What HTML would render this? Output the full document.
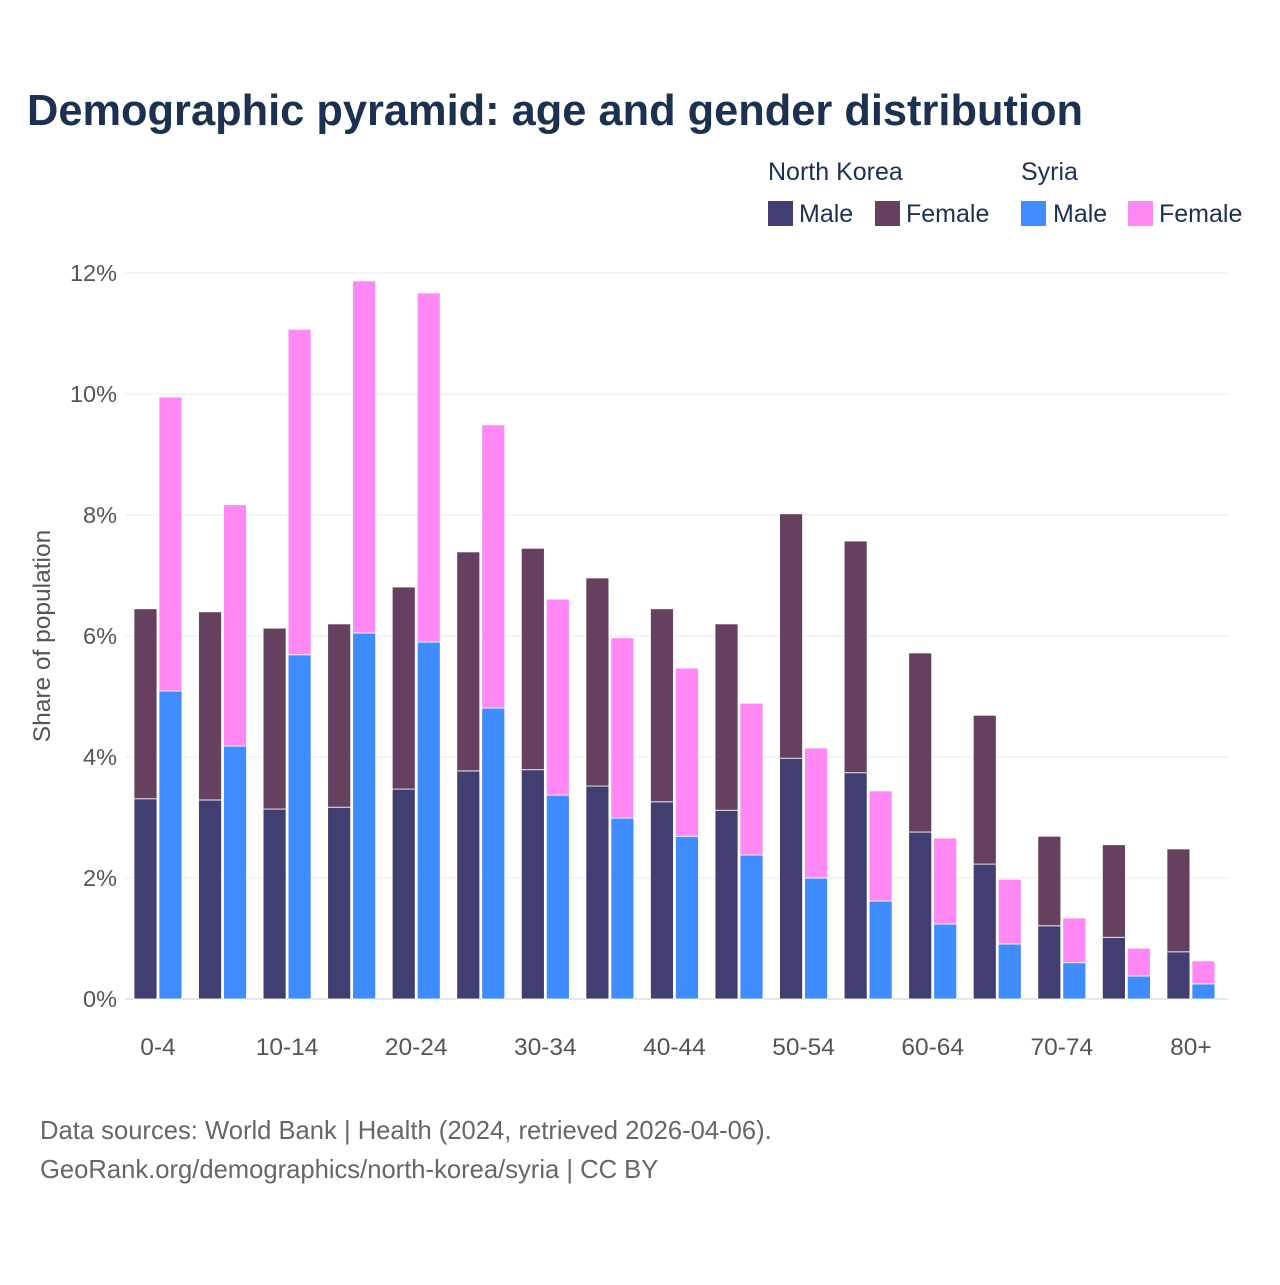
<!DOCTYPE html>
<html><head><meta charset="utf-8"><style>
body{margin:0;width:1280px;height:1280px;background:#fff;font-family:"Liberation Sans",sans-serif;overflow:hidden}
</style></head><body>
<svg id="c" width="1280" height="1280" xmlns="http://www.w3.org/2000/svg">
<text x="27" y="125" font-size="43.4" font-weight="bold" fill="#1c3150">Demographic pyramid: age and gender distribution</text>
<g font-size="25" fill="#1c3150">
<text x="768" y="180">North Korea</text>
<text x="1021" y="180">Syria</text>
<g><rect x="768" y="201" width="25" height="25" fill="#413e72"/><text x="799" y="222">Male</text></g>
<g><rect x="875" y="201" width="25" height="25" fill="#66405f"/><text x="906" y="222">Female</text></g>
<g><rect x="1021" y="201" width="25" height="25" fill="#3f8cff"/><text x="1053" y="222">Male</text></g>
<g><rect x="1128" y="201" width="25" height="25" fill="#ff88f5"/><text x="1159" y="222">Female</text></g>
</g>
<text transform="translate(50,636) rotate(-90)" text-anchor="middle" font-size="24.5" fill="#555">Share of population</text>
<g id="grid"></g><g id="bars"></g><g id="xt"></g>
<text x="40" y="1139" font-size="25.6" fill="#666">Data sources: World Bank | Health (2024, retrieved 2026-04-06).</text>
<text x="40" y="1178" font-size="25.6" fill="#666">GeoRank.org/demographics/north-korea/syria | CC BY</text>
</svg>
<script>
const categories=["0-4","5-9","10-14","15-19","20-24","25-29","30-34","35-39","40-44","45-49","50-54","55-59","60-64","65-69","70-74","75-79","80+"];
const nkMale=[3.31,3.29,3.14,3.17,3.47,3.77,3.79,3.52,3.26,3.12,3.98,3.74,2.76,2.23,1.21,1.02,0.78];
const nkFemale=[3.14,3.11,2.99,3.03,3.34,3.62,3.66,3.44,3.19,3.08,4.04,3.83,2.96,2.46,1.48,1.53,1.70];
const syMale=[5.09,4.18,5.69,6.05,5.90,4.81,3.37,2.99,2.69,2.38,2.00,1.62,1.24,0.91,0.60,0.38,0.25];
const syFemale=[4.86,3.99,5.38,5.82,5.77,4.68,3.24,2.98,2.78,2.51,2.15,1.82,1.42,1.07,0.74,0.46,0.38];
const yTicks=[0,2,4,6,8,10,12];
const NS="http://www.w3.org/2000/svg";
const y=v=>999-v*60.5;
const x0=125.7,band=64.56;
function mk(t,a,p){const e=document.createElementNS(NS,t);for(const k in a)e.setAttribute(k,a[k]);p.appendChild(e);return e;}
const grid=document.getElementById('grid'),bars=document.getElementById('bars'),xt=document.getElementById('xt');
yTicks.forEach(v=>{
 const l=mk('line',{x1:125,x2:1228,y1:y(v),y2:y(v),stroke:v===0?'#ccc':'#e8e8e8','stroke-width':1},grid);
 
 
 const t=mk('text',{x:117,y:y(v)+8,'text-anchor':'end','font-size':23.5,fill:'#555'},grid);
 t.textContent=v+'%';
 
 
});
function bar(xl,base,val,col,name){
 const r=mk('rect',{x:xl,y:y(base+val),width:23,height:val*60.5,fill:col,stroke:'#fff','stroke-width':0.8},bars);
 
 
}
categories.forEach((c,i)=>{
 const cx=x0+band*i+band/2;
 bar(cx-24,0,nkMale[i],'#413e72','bar-nk-male-'+c);
 bar(cx-24,nkMale[i],nkFemale[i],'#66405f','bar-nk-female-'+c);
 bar(cx+1,0,syMale[i],'#3f8cff','bar-syria-male-'+c);
 bar(cx+1,syMale[i],syFemale[i],'#ff88f5','bar-syria-female-'+c);
 if(i%2===0){
  const t=mk('text',{x:cx,y:1055,'text-anchor':'middle','font-size':24.5,fill:'#555'},xt);
  t.textContent=c;
  
  
 }
});
</script>
</body></html>
